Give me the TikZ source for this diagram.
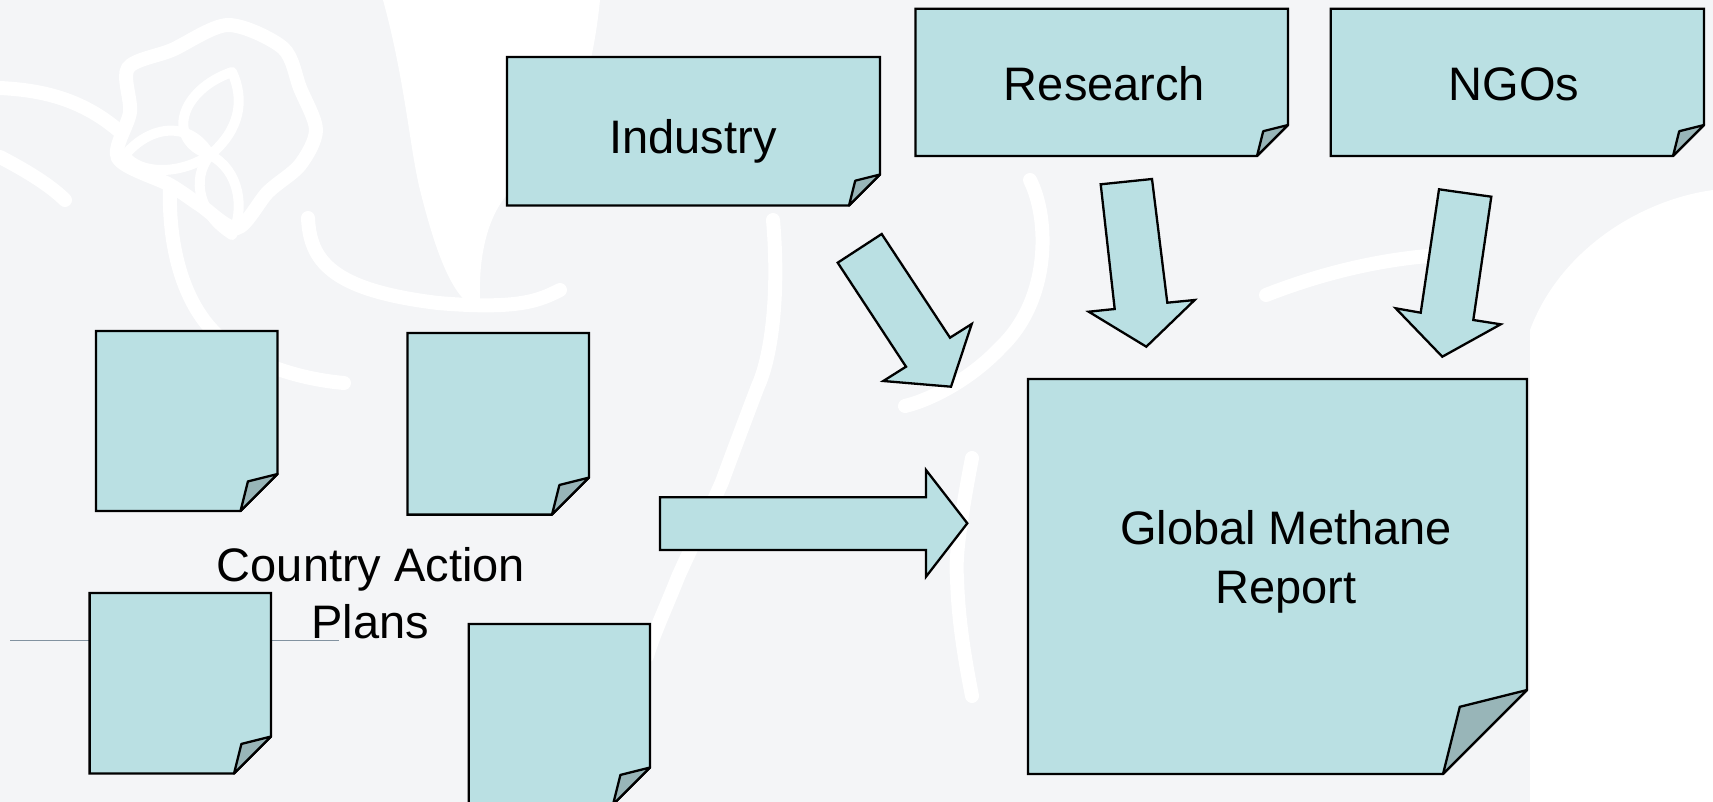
\documentclass[tikz,border=0pt]{standalone}
\usepackage{fontspec}
\setmainfont{Liberation Sans}
\definecolor{notefill}{RGB}{186,224,227}
\definecolor{foldfill}{RGB}{152,181,184}
\definecolor{bggray}{RGB}{244,245,247}
\definecolor{rulegray}{RGB}{130,146,160}
\newcommand\stickynote[6]{%
  \pgfmathsetmacro\sxa{#4-#6}\pgfmathsetmacro\sya{#5-#6}%
  \pgfmathsetmacro\sxb{#4-0.8*#6}\pgfmathsetmacro\syb{#5-0.8*#6}%
  \draw[notebody] (#2,#3) -- (#4,#3) -- (#4,\sya) -- (\sxa,#5) -- (#2,#5) -- cycle;
  \draw[notefold] (\sxa,#5) -- (\sxb,\syb) -- (#4,\sya) -- cycle;
  \coordinate (#1) at ({(#2+#4)/2},{(#3+#5)/2});
}
\begin{document}
\begin{tikzpicture}[x=0.5pt,y=-0.5pt,
  notebody/.style={fill=notefill,draw=black,line width=1.15pt,line join=miter},
  notefold/.style={fill=foldfill,draw=black,line width=1.15pt,line join=round},
  blockarrow/.style={fill=notefill,draw=black,line width=1.15pt,line join=miter},
  label/.style={font=\fontsize{23.5}{28}\selectfont,inner sep=0pt,anchor=base},
  bgline/.style={draw=white,line width=7pt,line cap=round},
  bgthin/.style={draw=white,line width=5pt,line cap=round}]
\useasboundingbox (0,0) rectangle (1713,802);
\clip (0,0) rectangle (1713,802);
% background
\fill[bggray] (0,0) rectangle (1713,802);
\fill[white] (383,0) .. controls (405,80) and (410,150) .. (420,190) .. controls (435,250) and (450,290) .. (470,305) -- (480,300) .. controls (478,240) and (495,200) .. (520,183) .. controls (560,160) and (590,100) .. (600,0) -- cycle;
\fill[white] (1530,802) -- (1530,330) .. controls (1560,250) and (1640,200) .. (1713,190) -- (1713,802) -- cycle;
% flower at top left
\draw[bgline] plot[smooth cycle] coordinates {(228,25) (283,48) (300,88) (316,130) (300,165) (268,192) (237,228) (200,205) (170,185) (118,158) (130,112) (128,68) (172,50)};
\draw[bgthin] (232,72) .. controls (180,90) and (165,140) .. (210,155) .. controls (240,130) and (245,100) .. (232,72);
\draw[bgthin] (125,155) .. controls (150,125) and (190,120) .. (210,155) .. controls (180,175) and (140,175) .. (125,155);
\draw[bgthin] (232,235) .. controls (200,215) and (190,180) .. (210,155) .. controls (240,170) and (245,210) .. (232,235);
% petal outlines
\draw[bgline] (0,88) .. controls (40,90) and (80,98) .. (118,130);
\draw[bgline] (0,157) .. controls (25,170) and (50,185) .. (65,200);
\draw[bgline] (170,187) .. controls (168,250) and (185,320) .. (237,350) .. controls (270,370) and (310,380) .. (344,383);
\draw[bgline] (308,218) .. controls (310,260) and (330,290) .. (438,303) .. controls (520,310) and (540,300) .. (560,290);
\draw[bgline] (773,220) .. controls (780,300) and (770,360) .. (758,386) .. controls (745,420) and (730,460) .. (722,482) .. controls (705,520) and (690,550) .. (678,577) .. controls (665,610) and (655,630) .. (647,656);
\draw[bgline] (1030,180) .. controls (1050,220) and (1050,300) .. (1001,347) .. controls (970,380) and (930,400) .. (905,406);
\draw[bgline] (972,458) .. controls (960,520) and (955,560) .. (957,577) .. controls (958,620) and (965,660) .. (972,696);
\draw[bgline] (1266,295) .. controls (1330,270) and (1390,258) .. (1442,255);
% thin rule under the label
\draw[rulegray,line width=0.6pt] (10,640.7) coordinate (ruleA) -- (339,640.7) coordinate (ruleB);
% country notes
\stickynote{caA}{96}{331}{277.5}{511}{37}
\stickynote{caB}{407.5}{333}{589}{514.6}{37}
\stickynote{caC}{89.6}{593}{271}{773.5}{37}
\stickynote{caD}{468.7}{624}{650}{804.5}{37}
% top notes
\stickynote{ind}{507}{57}{880}{205.5}{31}
\stickynote{res}{915.5}{8.7}{1288}{156}{31}
\stickynote{ngo}{1330.7}{8.7}{1704}{156}{31}
% report
\stickynote{gmr}{1028}{379}{1527}{774}{84}
% labels
\node[label] (tind) at (693,153.4) {Industry};
\node[label] (tres) at (1104.5,101) {Research};
\node[label] (tngo) at (1514,101) {NGOs};
\node[label] (tgm1) at (1286,544.5) {Global Methane};
\node[label] (tgm2) at (1286,603.5) {Report};
\node[label] (tca1) at (371,581.6) {Country Action};
\node[label] (tca2) at (370,638.4) {Plans};
% block arrows
\draw[blockarrow] (837.7,262.7) -- (881.7,234) -- (950,337.7) -- (971.7,324) -- (951,386.7) -- (883.3,381) -- (906,366.7) -- cycle;
\draw[blockarrow] (1100.7,184.3) -- (1152,179) -- (1167.3,302.7) -- (1194.7,300) -- (1146.3,346.7) -- (1088.7,311.7) -- (1114.7,309) -- cycle;
\draw[blockarrow] (1439,189.3) -- (1491.3,196.7) -- (1473.3,320) -- (1500.7,324.3) -- (1442.3,356.7) -- (1395.7,308.3) -- (1420.7,312.7) -- cycle;
\draw[blockarrow] (660,497.3) -- (926,497.3) -- (926,470) -- (967.3,523.3) -- (926,576.7) -- (926,550) -- (660,550) -- cycle;
\end{tikzpicture}
\end{document}
